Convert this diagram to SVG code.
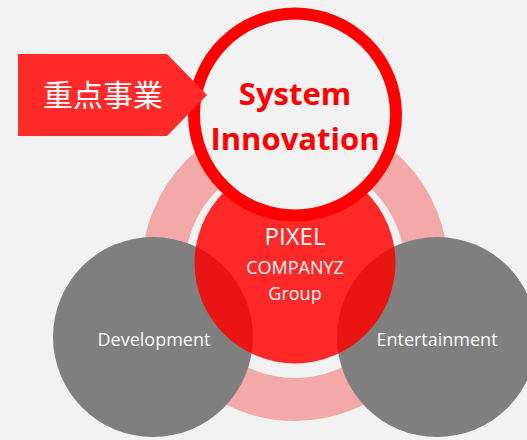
<svg xmlns="http://www.w3.org/2000/svg" width="527" height="440" viewBox="0 0 527 440">
<style>
.lbl{font-family:"Open Sans","Liberation Sans",sans-serif;fill:#f8f8f8;text-anchor:middle}
.hl{font-family:"Open Sans","Liberation Sans",sans-serif;font-weight:bold;fill:#ff0000;text-anchor:middle;font-size:31px}
.gray{fill:#7f7f7f}
</style>
<rect width="527" height="440" fill="#f2f2f2"/>
<g id="ring">
<circle cx="295" cy="268" r="131.5" fill="none" stroke="#f4a9a9" stroke-width="43"/>
</g>
<g id="development">
<circle class="gray" cx="153" cy="337" r="100"/>
<text class="lbl" x="154" y="346" font-size="18">Development</text>
</g>
<g id="entertainment">
<circle class="gray" cx="437" cy="337" r="100"/>
<text class="lbl" x="437" y="346" font-size="18">Entertainment</text>
</g>
<g id="pixel">
<circle cx="295" cy="263" r="100.5" fill="#ff0000" fill-opacity="0.83"/>
<text class="lbl" x="295" y="245" font-size="24">PIXEL</text>
<text class="lbl" x="295" y="274" font-size="18">COMPANYZ</text>
<text class="lbl" x="295" y="300" font-size="18">Group</text>
</g>
<g id="system-innovation">
<circle cx="295" cy="114.5" r="101" fill="#f2f2f2" stroke="#ff0000" stroke-width="12"/>
<text class="hl" x="295" y="105">System</text>
<text class="hl" x="295" y="150">Innovation</text>
</g>
<g id="tag">
<polygon points="18,54 167,54 207,95 167,136 18,136" fill="#ff2a2a"/>
<text x="103" y="106" font-size="30" fill="#ffffff" text-anchor="middle" font-family="'Noto Sans CJK JP','Noto Sans CJK SC',sans-serif">重点事業</text>
</g>
</svg>
